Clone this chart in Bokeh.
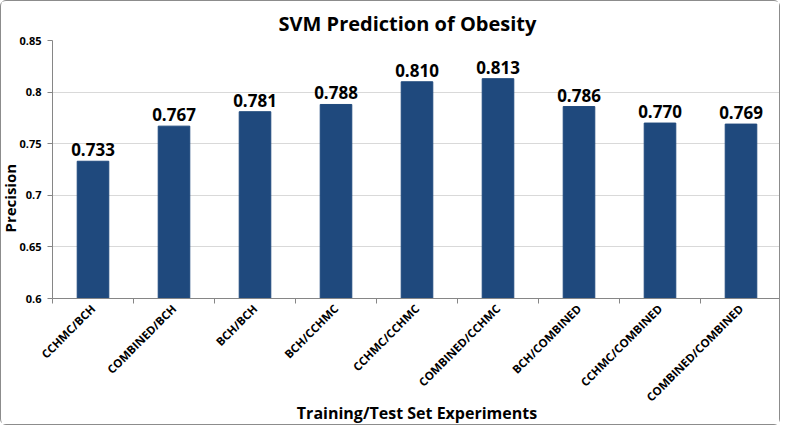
import math
from bokeh.plotting import figure
from bokeh.models import ColumnDataSource, FixedTicker, Range1d, Title
from bokeh.core.properties import value
from bokeh.embed import file_html
from bokeh.resources import INLINE

categories = ["CCHMC/BCH", "COMBINED/BCH", "BCH/BCH", "BCH/CCHMC", "CCHMC/CCHMC",
              "COMBINED/CCHMC", "BCH/COMBINED", "CCHMC/COMBINED", "COMBINED/COMBINED"]
precision = [0.733, 0.767, 0.781, 0.788, 0.810, 0.813, 0.786, 0.770, 0.769]
y_ticks = [0.6, 0.65, 0.7, 0.75, 0.8, 0.85]
y_tick_labels = ["0.6", "0.65", "0.7", "0.75", "0.8", "0.85"]
title_text = "SVM Prediction of Obesity"
x_title = "Training/Test Set Experiments"
y_title = "Precision"

FONT = "Open Sans"
BAR = "#1F497D"
AXIS = "#868686"
TEXT = "black"

x_pos = [i + 0.5 for i in range(len(categories))]
labels = [f"{v:.3f}" for v in precision]
src = ColumnDataSource(dict(x=x_pos, top=precision, label=labels))

p = figure(width=780, height=425, output_backend="svg", toolbar_location=None,
           x_range=Range1d(0, len(categories)), y_range=Range1d(y_ticks[0], y_ticks[-1]),
           min_border_left=46, min_border_right=0, min_border_top=39, min_border_bottom=0)

p.title.text = title_text
p.title.align = "left"
p.title.text_font = FONT
p.title.text_font_style = "bold"
p.title.text_font_size = "20px"
p.title.text_color = TEXT
p.title.offset = 226
p.title.standoff = 8

p.vbar(x="x", top="top", bottom=0, width=0.39, source=src, fill_color=BAR, line_color=BAR)
p.text(x="x", y="top", text="label", source=src, text_align="center", text_baseline="bottom",
       y_offset=-5, text_font=value(FONT), text_font_style="bold", text_font_size="17px",
       text_color=TEXT)

p.outline_line_color = None
p.background_fill_color = "white"
p.border_fill_color = "white"
p.xgrid.visible = False
p.ygrid.grid_line_color = "#d9d9d9"
p.ygrid.grid_line_width = 1

xa = p.xaxis[0]
xa.ticker = FixedTicker(ticks=x_pos, minor_ticks=list(range(len(categories) + 1)))
xa.major_label_overrides = {x: c for x, c in zip(x_pos, categories)}
xa.major_label_orientation = math.pi / 4
xa.major_tick_line_color = None
xa.major_tick_out = 0
xa.major_tick_in = 0
xa.minor_tick_line_color = AXIS
xa.minor_tick_out = 5
xa.minor_tick_in = 0
xa.axis_line_color = AXIS
xa.major_label_text_font = FONT
xa.major_label_text_font_style = "bold"
xa.major_label_text_font_size = "11.5px"
xa.major_label_text_color = TEXT
xa.major_label_standoff = 3
xa.axis_label = x_title
xa.axis_label_text_font = FONT
xa.axis_label_text_font_style = "bold"
xa.axis_label_text_font_size = "16px"
xa.axis_label_text_color = TEXT
xa.axis_label_standoff = -11

ya = p.yaxis[0]
ya.ticker = FixedTicker(ticks=y_ticks, minor_ticks=[])
ya.major_label_overrides = {t: l for t, l in zip(y_ticks, y_tick_labels)}
ya.major_tick_line_color = AXIS
ya.major_tick_out = 5
ya.major_tick_in = 0
ya.minor_tick_line_color = None
ya.axis_line_color = AXIS
ya.major_label_text_font = FONT
ya.major_label_text_font_style = "bold"
ya.major_label_text_font_size = "11px"
ya.major_label_text_color = TEXT
ya.major_label_standoff = 6

# y title as a side title anchored from the bottom of the frame, like the original
p.add_layout(Title(text=y_title, align="left", offset=66, standoff=-7,
                   text_font=FONT, text_font_style="bold", text_font_size="15px",
                   text_color=TEXT), "left")

p.styles = {"border": "1px solid #8c8c8c", "border-radius": "6px"}

open("out.html", "w").write(file_html(p, INLINE))
